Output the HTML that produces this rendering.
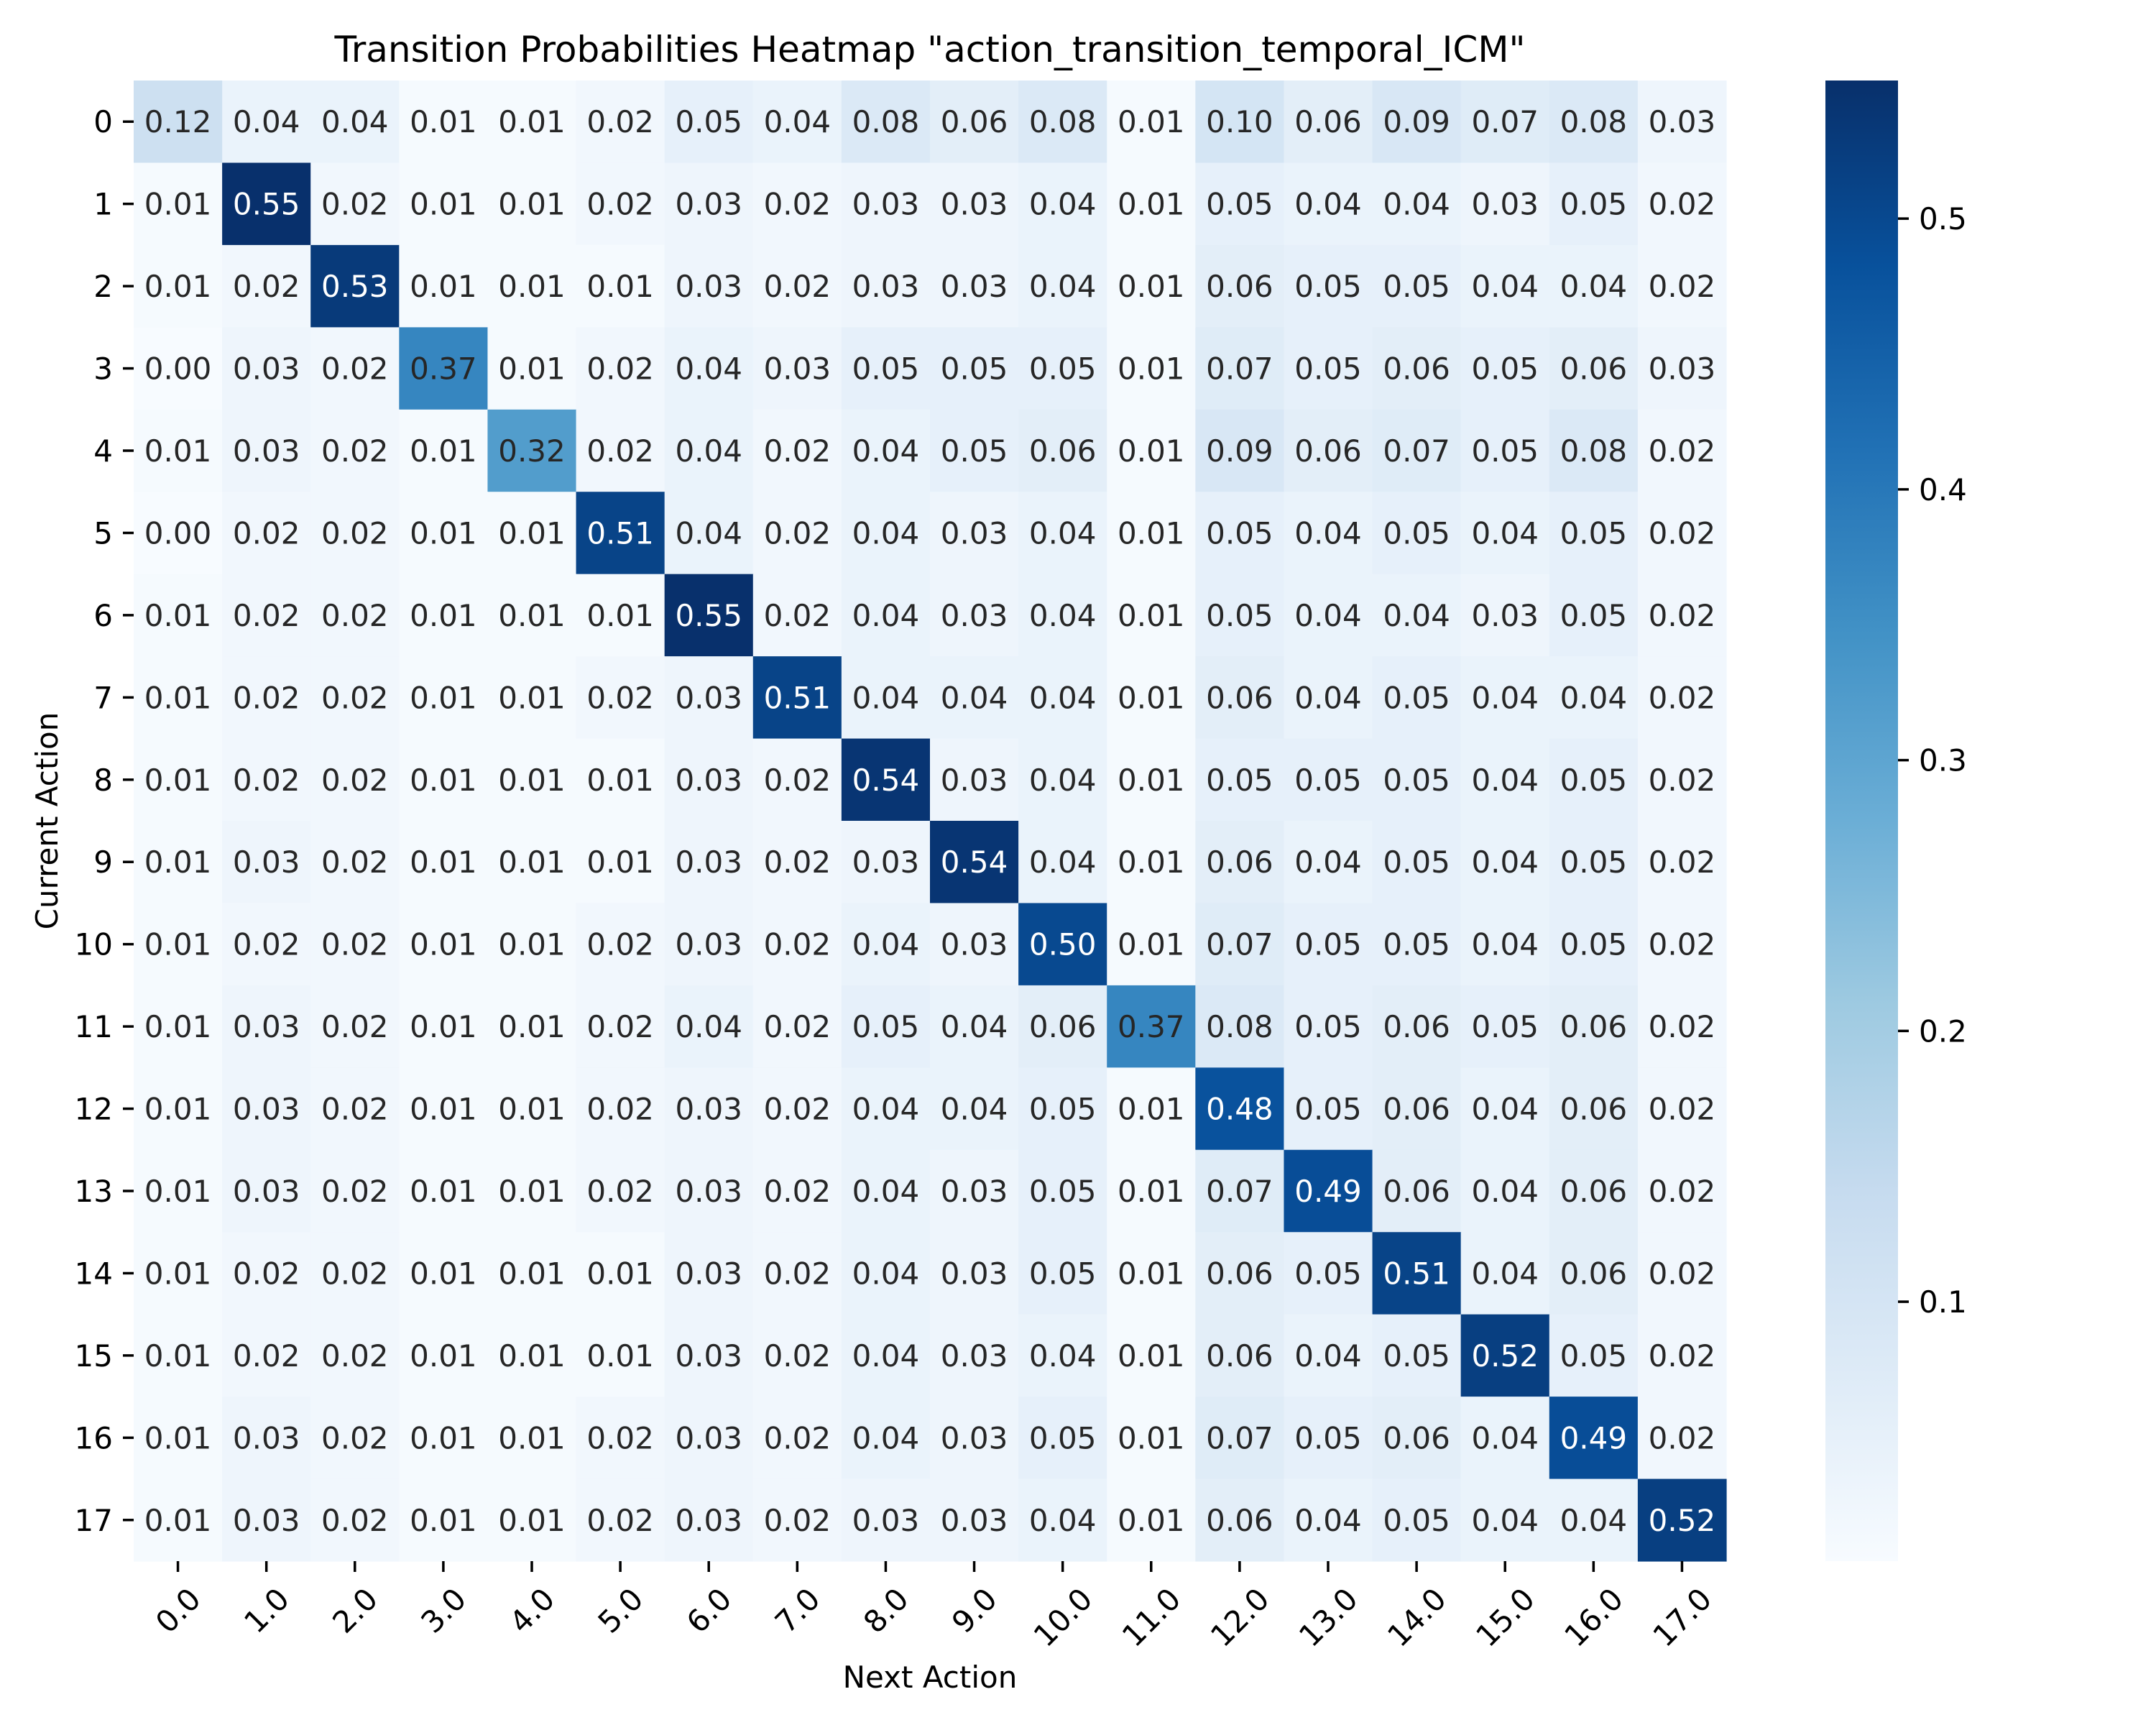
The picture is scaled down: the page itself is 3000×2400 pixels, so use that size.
<!DOCTYPE html>
<html><head><meta charset="utf-8"><style>
html,body{margin:0;padding:0;background:#fff;}
svg{display:block;font-family:"DejaVu Sans","Liberation Sans",sans-serif;}
</style></head><body>
<svg id="chart" xmlns="http://www.w3.org/2000/svg" width="3000" height="2400" viewBox="0 0 3000 2400">
<defs>
<linearGradient id="blues" x1="0" y1="1" x2="0" y2="0">
<stop offset="0" stop-color="#f7fbff"/><stop offset="0.125" stop-color="#deebf7"/><stop offset="0.25" stop-color="#c6dbef"/><stop offset="0.375" stop-color="#9ecae1"/><stop offset="0.5" stop-color="#6baed6"/><stop offset="0.625" stop-color="#4292c6"/><stop offset="0.75" stop-color="#2171b5"/><stop offset="0.875" stop-color="#08519c"/><stop offset="1" stop-color="#08306b"/>
</linearGradient>
</defs>
<text x="1294" y="86" font-size="50" text-anchor="middle" fill="#000">Transition Probabilities Heatmap "action_transition_temporal_ICM"</text>
<g id="cells"></g>
<g id="xticks"></g>
<g id="yticks"></g>
<text x="1294" y="2348" font-size="42" text-anchor="middle">Next Action</text>
<text x="0" y="0" font-size="42" text-anchor="middle" transform="translate(80,1142) rotate(-90)">Current Action</text>
<rect x="2540" y="112" width="101" height="2060" fill="url(#blues)"/>
<g id="cbticks"></g>
</svg>
<script>
const rowLabels = ["0","1","2","3","4","5","6","7","8","9","10","11","12","13","14","15","16","17"];
const colLabels = ["0.0","1.0","2.0","3.0","4.0","5.0","6.0","7.0","8.0","9.0","10.0","11.0","12.0","13.0","14.0","15.0","16.0","17.0"];
const row0 = [0.12,0.04,0.04,0.01,0.01,0.02,0.05,0.04,0.08,0.06,0.08,0.01,0.10,0.06,0.09,0.07,0.08,0.03];
const row1 = [0.01,0.55,0.02,0.01,0.01,0.02,0.03,0.02,0.03,0.03,0.04,0.01,0.05,0.04,0.04,0.03,0.05,0.02];
const row2 = [0.01,0.02,0.53,0.01,0.01,0.01,0.03,0.02,0.03,0.03,0.04,0.01,0.06,0.05,0.05,0.04,0.04,0.02];
const row3 = [0.00,0.03,0.02,0.37,0.01,0.02,0.04,0.03,0.05,0.05,0.05,0.01,0.07,0.05,0.06,0.05,0.06,0.03];
const row4 = [0.01,0.03,0.02,0.01,0.32,0.02,0.04,0.02,0.04,0.05,0.06,0.01,0.09,0.06,0.07,0.05,0.08,0.02];
const row5 = [0.00,0.02,0.02,0.01,0.01,0.51,0.04,0.02,0.04,0.03,0.04,0.01,0.05,0.04,0.05,0.04,0.05,0.02];
const row6 = [0.01,0.02,0.02,0.01,0.01,0.01,0.55,0.02,0.04,0.03,0.04,0.01,0.05,0.04,0.04,0.03,0.05,0.02];
const row7 = [0.01,0.02,0.02,0.01,0.01,0.02,0.03,0.51,0.04,0.04,0.04,0.01,0.06,0.04,0.05,0.04,0.04,0.02];
const row8 = [0.01,0.02,0.02,0.01,0.01,0.01,0.03,0.02,0.54,0.03,0.04,0.01,0.05,0.05,0.05,0.04,0.05,0.02];
const row9 = [0.01,0.03,0.02,0.01,0.01,0.01,0.03,0.02,0.03,0.54,0.04,0.01,0.06,0.04,0.05,0.04,0.05,0.02];
const row10 = [0.01,0.02,0.02,0.01,0.01,0.02,0.03,0.02,0.04,0.03,0.50,0.01,0.07,0.05,0.05,0.04,0.05,0.02];
const row11 = [0.01,0.03,0.02,0.01,0.01,0.02,0.04,0.02,0.05,0.04,0.06,0.37,0.08,0.05,0.06,0.05,0.06,0.02];
const row12 = [0.01,0.03,0.02,0.01,0.01,0.02,0.03,0.02,0.04,0.04,0.05,0.01,0.48,0.05,0.06,0.04,0.06,0.02];
const row13 = [0.01,0.03,0.02,0.01,0.01,0.02,0.03,0.02,0.04,0.03,0.05,0.01,0.07,0.49,0.06,0.04,0.06,0.02];
const row14 = [0.01,0.02,0.02,0.01,0.01,0.01,0.03,0.02,0.04,0.03,0.05,0.01,0.06,0.05,0.51,0.04,0.06,0.02];
const row15 = [0.01,0.02,0.02,0.01,0.01,0.01,0.03,0.02,0.04,0.03,0.04,0.01,0.06,0.04,0.05,0.52,0.05,0.02];
const row16 = [0.01,0.03,0.02,0.01,0.01,0.02,0.03,0.02,0.04,0.03,0.05,0.01,0.07,0.05,0.06,0.04,0.49,0.02];
const row17 = [0.01,0.03,0.02,0.01,0.01,0.02,0.03,0.02,0.03,0.03,0.04,0.01,0.06,0.04,0.05,0.04,0.04,0.52];
const cbTicks = [0.1,0.2,0.3,0.4,0.5];
const vmin = 0.0042, vmax = 0.551;

const matrix = [row0,row1,row2,row3,row4,row5,row6,row7,row8,row9,row10,row11,row12,row13,row14,row15,row16,row17];
const NS = "http://www.w3.org/2000/svg";
const L = 186, R = 2402, T = 112, B = 2172;
const cw = (R - L) / colLabels.length, ch = (B - T) / rowLabels.length;
function xPos(i){ return L + i * cw; }
function yPos(j){ return T + j * ch; }
function cbY(v){ return B - (v - vmin) / (vmax - vmin) * (B - T); }
const stops = [[0.0,[247,251,255]],[0.125,[222,235,247]],[0.25,[198,219,239]],[0.375,[158,202,225]],[0.5,[107,174,214]],[0.625,[66,146,198]],[0.75,[33,113,181]],[0.875,[8,81,156]],[1.0,[8,48,107]]];
function color(v){
  let t = Math.max(0, Math.min(1, (v - vmin) / (vmax - vmin)));
  for (let k = 0; k < stops.length - 1; k++) {
    const a = stops[k], b = stops[k+1];
    if (t <= b[0]) {
      const f = (t - a[0]) / (b[0] - a[0]);
      const c = a[1].map((x, i) => Math.round(x + (b[1][i] - x) * f));
      return { css: "rgb(" + c.join(",") + ")", lum: (0.2126*c[0] + 0.7152*c[1] + 0.0722*c[2]) / 255 };
    }
  }
  return { css: "rgb(8,48,107)", lum: 0.1 };
}
function el(tag, attrs){ const e = document.createElementNS(NS, tag); for (const k in attrs) e.setAttribute(k, attrs[k]); return e; }
const cells = document.getElementById("cells");
matrix.forEach((row, j) => {
  row.forEach((v, i) => {
    const c = color(v);
    const r = el("rect", { x: xPos(i), y: yPos(j), width: cw + 0.6, height: ch + 0.6, fill: c.css });
    
    
    cells.appendChild(r);
    const t = el("text", { x: xPos(i) + cw/2, y: yPos(j) + ch/2 + 15, "font-size": 42, "text-anchor": "middle", fill: c.lum > 0.408 ? "#262626" : "#ffffff" });
    
    
    t.textContent = v.toFixed(2);
    cells.appendChild(t);
  });
});
const xt = document.getElementById("xticks");
colLabels.forEach((lab, i) => {
  const cx = xPos(i) + cw/2;
  const tk = el("line", { x1: cx, x2: cx, y1: B, y2: B + 15, stroke: "#000", "stroke-width": 3.5 });
  
  
  xt.appendChild(tk);
  const t = el("text", { x: 0, y: 15, "font-size": 42, "text-anchor": "middle" });
  
  
  t.textContent = lab;
  xt.appendChild(t);
  const w = t.getComputedTextLength ? t.getComputedTextLength() : lab.length * 26;
  const cy = 2202 + (w + 42) * 0.7071 / 2;
  t.setAttribute("transform", "translate(" + cx + "," + cy + ") rotate(-45)");
});
const yt = document.getElementById("yticks");
rowLabels.forEach((lab, j) => {
  const cy = yPos(j) + ch/2;
  const tk = el("line", { x1: L - 15, x2: L, y1: cy, y2: cy, stroke: "#000", "stroke-width": 3.5 });
  
  
  yt.appendChild(tk);
  const t = el("text", { x: L - 29, y: cy + 15, "font-size": 42, "text-anchor": "end" });
  
  
  t.textContent = lab;
  yt.appendChild(t);
});
const cb = document.getElementById("cbticks");
cbTicks.forEach(v => {
  const y = cbY(v);
  const tk = el("line", { x1: 2641, x2: 2656, y1: y, y2: y, stroke: "#000", "stroke-width": 3.5 });
  
  
  cb.appendChild(tk);
  const t = el("text", { x: 2670, y: y + 15, "font-size": 42 });
  
  
  t.textContent = v.toFixed(1);
  cb.appendChild(t);
});
</script>
</body></html>
